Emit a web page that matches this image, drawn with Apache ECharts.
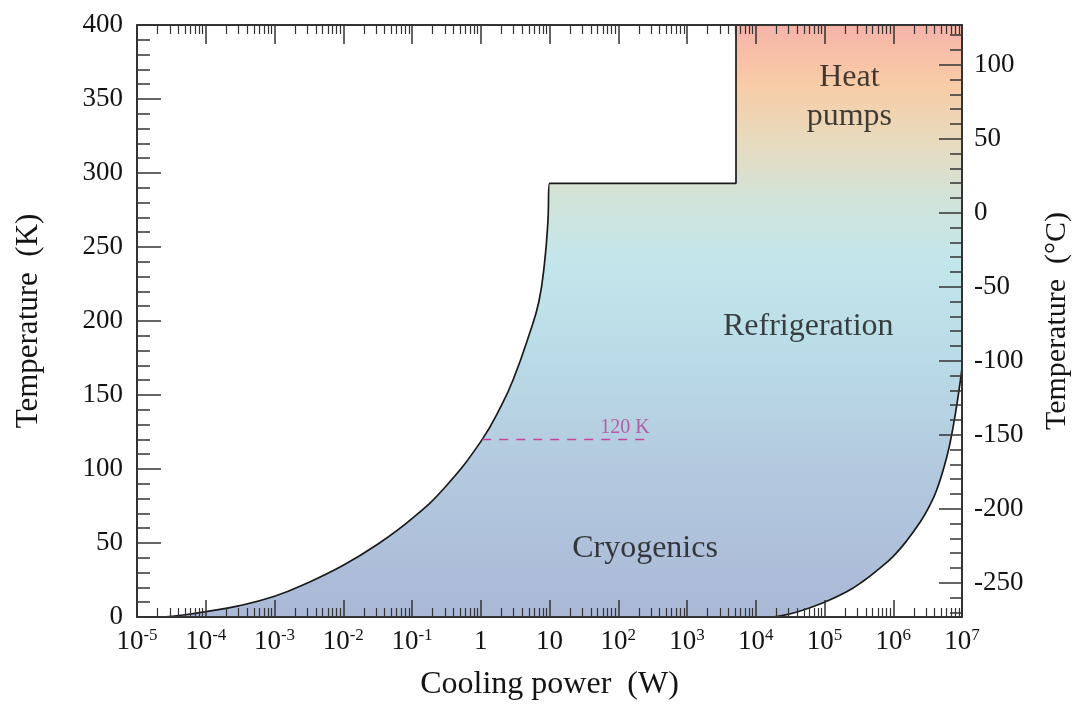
<!DOCTYPE html>
<html><head><meta charset="utf-8">
<script src="https://cdn.jsdelivr.net/npm/echarts@6/dist/echarts.min.js"></script>
<style>html,body{margin:0;padding:0;background:#fff}#c{width:1074px;height:706px}</style>
</head><body><div id="c"></div>
<script>
// ---- data ----
const xMajorTicks = [1e-5, 1e-4, 1e-3, 1e-2, 1e-1, 1, 10, 1e2, 1e3, 1e4, 1e5, 1e6, 1e7];
const xMinorMultipliers = [2, 3, 4, 5, 6, 7, 8, 9];
const celsiusMajorTicks = [-250, -200, -150, -100, -50, 0, 50, 100];
const celsiusMinorTicks = [-270, -260, -240, -230, -220, -210, -190, -180, -170, -160, -140, -130, -120, -110,
  -90, -80, -70, -60, -40, -30, -20, -10, 10, 20, 30, 40, 60, 70, 80, 90, 110, 120];

// left boundary (cooling power W, temperature K)
const leftP = [2.4e-5, 5e-5, 1e-4, 3e-4, 1e-3, 3e-3, 1e-2, 3e-2, 0.1, 0.3, 1, 2, 3, 5, 7, 8.5, 9.5, 10];
const leftT = [0, 1.5, 3.6, 7.5, 14, 23, 35, 48.5, 66.5, 87.5, 118.5, 143, 161, 190, 213, 240, 268, 293];
// plateau + step + top edge (corner points)
const stepP = [10, 5160, 5160, 1e7];
const stepT = [293, 293, 400, 400];
// right boundary
const rightP = [1.5e4, 2.2e4, 4e4, 1e5, 2.1e5, 3.6e5, 6e5, 1e6, 1.6e6, 2.45e6, 3.2e6, 4.3e6, 6e6, 7.4e6, 8.9e6, 1e7];
const rightT = [0, 0.6, 3.4, 10, 17, 24, 32, 41, 52, 64, 73, 86, 108, 128, 151, 168];
// 120 K marker
const line120P = [1.05, 290];
const line120T = [120, 120];
// region labels
const regionNames = ['Heat\npumps', 'Refrigeration', 'Cryogenics'];
const regionP = [2.3e5, 5.8e4, 245];
const regionT = [351, 196, 46];
const markerLabel = '120 K';
const markerLabelP = [125];
const markerLabelT = [128];

const KELVIN = 273.15;
const serif = "'Liberation Serif', 'Times New Roman', serif";
const dark = '#141414';
const gradientStops = [
  {offset: 0.00, color: '#f6b3a9'},
  {offset: 0.10, color: '#f8cca6'},
  {offset: 0.20, color: '#e7dbbf'},
  {offset: 0.30, color: '#d0e4da'},
  {offset: 0.40, color: '#c3e6ec'},
  {offset: 0.55, color: '#badce7'},
  {offset: 0.75, color: '#b3c9df'},
  {offset: 1.00, color: '#aab8d6'}
];

const xMinorTicks = [];
for (let i = 0; i < xMajorTicks.length - 1; i++) {
  xMinorMultipliers.forEach(m => xMinorTicks.push(+(m * xMajorTicks[i]).toPrecision(3)));
}
const zip = (a, b) => a.map((v, i) => [v, b[i]]);

// upper outline: smooth curve, then sharp corners (each corner point repeated so the
// smoothing keeps the corners square and the straight edges straight)
const upperOutline = zip(leftP, leftT);
zip(stepP, stepT).forEach((p, i, arr) => {
  if (i === 0) { upperOutline.push(p.slice()); return; }
  upperOutline.push(p);
  if (i < arr.length - 1) upperOutline.push(p.slice());
});

const chart = echarts.init(document.getElementById('c'), null, {renderer: 'canvas'});

function xLabel(v) {
  const e = Math.round(Math.log10(v));
  if (e === 0) return '{b|1}';
  if (e === 1) return '{b|10}';
  return '{b|10}{s|' + e + '}';
}

const xBase = {type: 'log', logBase: 10, min: 1e-5, max: 1e7, gridIndex: 0, z: 10,
  splitLine: {show: false}, minorTick: {show: false}, minorSplitLine: {show: false}};
const axisColor = '#333';

function buildOption(fillColor) {
  return {
    backgroundColor: '#fff',
    animation: false,
    grid: {left: 137, right: 112, top: 25, bottom: 89, containLabel: false, outerBoundsMode: 'none'},
    xAxis: [
      Object.assign({}, xBase, {
        position: 'bottom',
        axisLine: {show: true, onZero: false, lineStyle: {color: axisColor, width: 2}},
        axisTick: {show: true, inside: true, length: 17, customValues: xMajorTicks, lineStyle: {color: axisColor, width: 1.5}},
        axisLabel: {show: true, interval: 0, margin: 10, customValues: xMajorTicks, formatter: xLabel,
          rich: {
            b: {fontSize: 27, fontFamily: serif, color: dark, lineHeight: 29},
            s: {fontSize: 17, fontFamily: serif, color: dark, lineHeight: 17, verticalAlign: 'top'}
          }},
        name: 'Cooling power  (W)', nameLocation: 'middle', nameGap: 52,
        nameTextStyle: {fontSize: 32, fontFamily: serif, color: dark}
      }),
      Object.assign({}, xBase, {
        position: 'bottom',
        axisLine: {show: false, onZero: false},
        axisTick: {show: true, inside: true, length: 9, customValues: xMinorTicks, lineStyle: {color: axisColor, width: 1.2}},
        axisLabel: {show: false}
      }),
      Object.assign({}, xBase, {
        position: 'top',
        axisLine: {show: true, onZero: false, lineStyle: {color: axisColor, width: 2}},
        axisTick: {show: true, inside: true, length: 19, customValues: xMajorTicks, lineStyle: {color: axisColor, width: 1.5}},
        axisLabel: {show: false}
      }),
      Object.assign({}, xBase, {
        position: 'top',
        axisLine: {show: false, onZero: false},
        axisTick: {show: true, inside: true, length: 9, customValues: xMinorTicks, lineStyle: {color: axisColor, width: 1.2}},
        axisLabel: {show: false}
      })
    ],
    yAxis: [
      {
        type: 'value', min: 0, max: 400, interval: 50, position: 'left', z: 10,
        axisLine: {show: true, onZero: false, lineStyle: {color: axisColor, width: 2}},
        axisTick: {show: true, inside: true, length: 24, lineStyle: {color: axisColor, width: 1.5}},
        minorTick: {show: true, splitNumber: 5, length: 13, lineStyle: {color: axisColor, width: 1.5}},
        splitLine: {show: false},
        axisLabel: {margin: 14, fontSize: 27, fontFamily: serif, color: dark},
        name: 'Temperature  (K)', nameLocation: 'middle', nameRotate: 90, nameGap: 93,
        nameTextStyle: {fontSize: 31, fontFamily: serif, color: dark}
      },
      {
        type: 'value', min: 0, max: 400, position: 'right', z: 10,
        axisLine: {show: true, onZero: false, lineStyle: {color: axisColor, width: 2}},
        axisTick: {show: true, inside: true, length: 23, customValues: celsiusMajorTicks.map(c => c + KELVIN), lineStyle: {color: axisColor, width: 1.5}},
        splitLine: {show: false},
        axisLabel: {margin: 12, fontSize: 27, fontFamily: serif, color: dark,
          customValues: celsiusMajorTicks.map(c => c + KELVIN),
          formatter: v => String(Math.round(v - KELVIN))},
        name: 'Temperature  (°C)', nameLocation: 'middle', nameRotate: 90, nameGap: 80,
        nameTextStyle: {fontSize: 30, fontFamily: serif, color: dark}
      },
      {
        type: 'value', min: 0, max: 400, position: 'right', z: 10,
        axisLine: {show: false, onZero: false},
        axisTick: {show: true, inside: true, length: 12, customValues: celsiusMinorTicks.map(c => c + KELVIN), lineStyle: {color: axisColor, width: 1.5}},
        splitLine: {show: false},
        axisLabel: {show: false}
      }
    ],
    series: [
      {
        name: 'upper boundary', type: 'line', xAxisIndex: 0, yAxisIndex: 0, z: 2, data: upperOutline,
        showSymbol: false, symbol: 'none', smooth: 0.45,
        lineStyle: {color: '#1a1a1a', width: 1.7},
        areaStyle: {color: fillColor, opacity: 1, origin: 'start'}
      },
      {
        name: 'right boundary', type: 'line', xAxisIndex: 0, yAxisIndex: 0, z: 3, data: zip(rightP, rightT),
        showSymbol: false, symbol: 'none', smooth: 0.45,
        lineStyle: {color: '#1a1a1a', width: 1.7},
        areaStyle: {color: '#ffffff', opacity: 1, origin: 'start'}
      },
      {
        type: 'line', xAxisIndex: 0, yAxisIndex: 0, z: 4, data: zip(line120P, line120T),
        showSymbol: false, symbol: 'none',
        lineStyle: {color: '#c4479d', width: 1.5, type: [9, 8]}
      },
      {
        type: 'scatter', xAxisIndex: 0, yAxisIndex: 0, z: 5, symbolSize: 0, silent: true,
        data: regionNames.map((n, i) => ({name: n, value: [regionP[i], regionT[i]]})),
        label: {show: true, position: 'inside', formatter: p => p.name, fontSize: 32, lineHeight: 39,
          fontFamily: serif, color: dark, align: 'center', verticalAlign: 'middle'}
      },
      {
        type: 'scatter', xAxisIndex: 0, yAxisIndex: 0, z: 5, symbolSize: 0, silent: true,
        data: markerLabelP.map((p, i) => ({name: markerLabel, value: [p, markerLabelT[i]]})),
        label: {show: true, position: 'inside', formatter: p => p.name, fontSize: 20,
          fontFamily: serif, color: '#b83d92', align: 'center', verticalAlign: 'middle'}
      }
    ]
  };
}

chart.setOption(buildOption('#c3dce8'));
// gradient spans the temperature axis from 400 K (top) to 0 K (bottom), in pixel space of the grid
const yTop = chart.convertToPixel({yAxisIndex: 0}, 400);
const yBottom = chart.convertToPixel({yAxisIndex: 0}, 0);
const grad = new echarts.graphic.LinearGradient(0, yTop, 0, yBottom, gradientStops, true);
chart.setOption(buildOption(grad), {notMerge: true});
</script>
</body></html>
